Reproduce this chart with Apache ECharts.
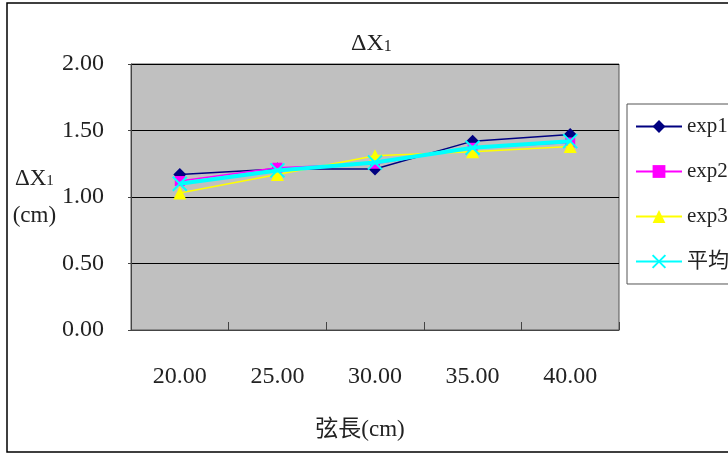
<!DOCTYPE html>
<html>
<head>
<meta charset="utf-8">
<script src="https://cdn.jsdelivr.net/npm/echarts@6/dist/echarts.min.js"></script>
<style>html,body{margin:0;padding:0;background:#fff;}#c{width:728px;height:454px;}</style>
</head>
<body>
<div id="c"></div>
<script>
const categories = ['20.00', '25.00', '30.00', '35.00', '40.00'];
const exp1 = [1.17, 1.21, 1.21, 1.42, 1.47];
const exp2 = [1.12, 1.22, 1.25, 1.37, 1.41];
const exp3 = [1.03, 1.17, 1.31, 1.34, 1.38];
const avg = [1.10, 1.20, 1.26, 1.37, 1.42];
const seriesNames = ['exp1', 'exp2', 'exp3', '平均'];
const yTicks = { min: 0, max: 2, interval: 0.5 };

const FONT = "'Liberation Serif', 'Noto Sans CJK TC', serif";
const chart = echarts.init(document.getElementById('c'), null, { renderer: 'canvas' });
const xPath = 'path://M0,0L10,10M10,0L0,10';

chart.setOption({
  backgroundColor: '#fff',
  animation: false,
  graphic: [{
    type: 'rect', shape: { x: 7, y: 3, width: 760, height: 449 },
    style: { fill: 'none', stroke: '#000', lineWidth: 1.5 }, silent: true, z: -1
  }],
  title: {
    text: '{a|ΔX}{b|1}', left: 346, top: 27,
    textStyle: {
      fontFamily: FONT, fontWeight: 'normal', color: '#222',
      rich: {
        a: { fontFamily: FONT, fontSize: 24, color: '#222' },
        b: { fontFamily: FONT, fontSize: 16, color: '#222', padding: [5, 0, 0, 0] }
      }
    }
  },
  legend: {
    orient: 'vertical', left: 627, top: 104,
    padding: [12, 8, 12, 8],
    itemWidth: 46, itemHeight: 16, itemGap: 24,
    borderColor: '#555', borderWidth: 1, backgroundColor: '#fff',
    textStyle: { fontFamily: FONT, fontSize: 21, color: '#222', padding: [0, 0, 0, 0] },
    data: seriesNames
  },
  grid: {
    left: 131, right: 109, top: 64, bottom: 124,
    show: true, backgroundColor: '#c0c0c0', borderColor: '#555', borderWidth: 1
  },
  xAxis: {
    type: 'category', data: categories, boundaryGap: true,
    name: '弦長(cm)', nameLocation: 'middle', nameGap: 88,
    nameTextStyle: { fontFamily: FONT, fontSize: 23, color: '#222', padding: [0, 30, 0, 0] },
    axisLine: { lineStyle: { color: '#444', width: 1 } },
    axisTick: { show: true, inside: true, length: 8, lineStyle: { color: '#444' } },
    axisLabel: { fontFamily: FONT, fontSize: 24, color: '#222', margin: 35 },
    splitLine: { show: false }
  },
  yAxis: {
    type: 'value', min: yTicks.min, max: yTicks.max, interval: yTicks.interval,
    name: '{a|ΔX}{b|1}\n{a|(cm)}', nameLocation: 'middle', nameGap: 94, nameRotate: 0,
    nameTextStyle: {
      fontFamily: FONT, align: 'center', verticalAlign: 'middle', color: '#222',
      rich: {
        a: { fontFamily: FONT, fontSize: 23, color: '#222', lineHeight: 37 },
        b: { fontFamily: FONT, fontSize: 15, color: '#222', lineHeight: 37, padding: [5, 0, 0, 0] }
      }
    },
    axisLine: { show: true, lineStyle: { color: '#444' } },
    axisTick: { show: true, length: 3, lineStyle: { color: '#444' } },
    axisLabel: { fontFamily: FONT, fontSize: 24, color: '#222', margin: 27, formatter: v => v.toFixed(2) },
    splitLine: { show: true, lineStyle: { color: '#000', width: 1 } }
  },
  series: [
    { name: seriesNames[0], type: 'line', data: exp1, symbol: 'diamond', symbolSize: 13,
      lineStyle: { color: '#000080', width: 1.5 }, itemStyle: { color: '#000080' }, z: 3 },
    { name: seriesNames[1], type: 'line', data: exp2, symbol: 'rect', symbolSize: 10,
      lineStyle: { color: '#ff00ff', width: 1.5 }, itemStyle: { color: '#ff00ff' }, z: 4 },
    { name: seriesNames[2], type: 'line', data: exp3, symbol: 'triangle', symbolSize: 13,
      lineStyle: { color: '#ffff00', width: 1.5 }, itemStyle: { color: '#ffff00' }, z: 5 },
    { name: seriesNames[3], type: 'line', data: avg, symbol: xPath, symbolSize: 14,
      lineStyle: { color: '#00ffff', width: 4 },
      itemStyle: { color: '#00ffff', borderColor: '#00ffff', borderWidth: 2 }, z: 6 }
  ]
});
</script>
</body>
</html>
